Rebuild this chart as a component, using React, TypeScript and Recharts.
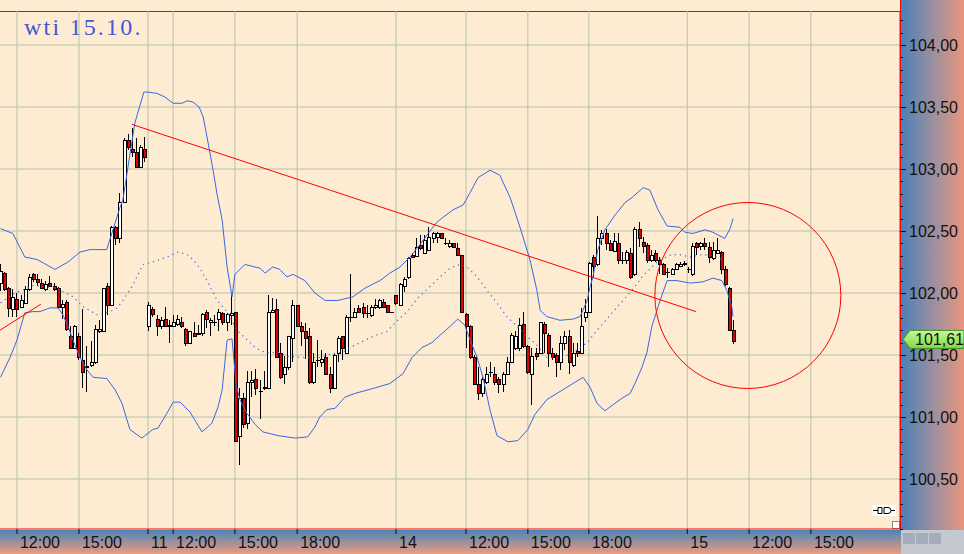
// WTI 12-min candles with Bollinger bands, 10.10 – 15.10

import { Bar, CartesianGrid, ComposedChart, Line, ReferenceDot, ReferenceLine, XAxis, YAxis } from "recharts";

// [open, high, low, close] per session
const day10: number[][] = [
  [102.08, 102.23, 102.02, 102.18], [102.16, 102.17, 102.02, 102.03], [102.04, 102.05, 101.81, 101.88],
  [101.87, 102.03, 101.81, 101.97], [101.95, 102.0, 101.81, 101.87], [101.89, 101.98, 101.88, 101.94],
  [101.92, 102.06, 101.92, 102.03], [102.03, 102.15, 102.02, 102.13], [102.15, 102.16, 102.09, 102.11],
  [102.11, 102.15, 102.06, 102.09], [102.08, 102.11, 102.03, 102.04], [102.03, 102.1, 102.02, 102.07],
  [102.08, 102.14, 102.05, 102.06], [102.06, 102.08, 102.02, 102.03], [102.04, 102.05, 101.88, 101.89],
  [101.89, 101.94, 101.79, 101.91], [101.93, 101.94, 101.69, 101.71], [101.65, 101.73, 101.55, 101.56],
  [101.56, 101.74, 101.55, 101.73], [101.65, 101.68, 101.46, 101.48], [101.46, 101.87, 101.23, 101.36],
  [101.4, 101.57, 101.2, 101.41], [101.42, 101.61, 101.4, 101.44], [101.44, 101.74, 101.43, 101.71],
  [101.69, 101.78, 101.68, 101.71], [101.69, 102.04, 101.69, 102.04], [102.06, 102.08, 101.82, 101.9],
  [101.9, 102.54, 101.9, 102.53], [102.53, 102.54, 102.39, 102.44], [102.44, 102.81, 102.4, 102.73],
  [102.73, 103.25, 102.73, 103.23], [103.23, 103.28, 103.15, 103.18], [103.16, 103.33, 103.1, 103.14],
  [103.14, 103.25, 103.02, 103.02], [103.02, 103.19, 103.02, 103.18], [103.16, 103.26, 103.06, 103.1],
];

const day11: number[][] = [
  [101.73, 101.93, 101.69, 101.9], [101.87, 101.89, 101.81, 101.83], [101.79, 101.82, 101.65, 101.73],
  [101.73, 101.81, 101.71, 101.78], [101.79, 101.89, 101.73, 101.73], [101.73, 101.78, 101.6, 101.74],
  [101.73, 101.82, 101.73, 101.77], [101.75, 101.82, 101.73, 101.79], [101.77, 101.81, 101.72, 101.73],
  [101.71, 101.72, 101.57, 101.6], [101.6, 101.69, 101.6, 101.69], [101.68, 101.77, 101.65, 101.65],
  [101.68, 101.74, 101.67, 101.67], [101.68, 101.84, 101.65, 101.83], [101.85, 101.86, 101.72, 101.79],
  [101.77, 101.8, 101.65, 101.78], [101.77, 101.82, 101.73, 101.77], [101.79, 101.87, 101.69, 101.85],
  [101.84, 101.85, 101.74, 101.77], [101.77, 101.84, 101.69, 101.83], [101.82, 101.98, 101.74, 101.84],
  [101.85, 101.85, 100.8, 100.81], [100.85, 101.23, 100.61, 101.15], [101.15, 101.19, 100.91, 100.94],
  [100.95, 101.37, 100.9, 101.28], [101.28, 101.37, 101.16, 101.3], [101.31, 101.39, 101.18, 101.23],
  [101.21, 101.3, 100.98, 101.21], [101.23, 101.37, 101.22, 101.24], [101.23, 101.98, 101.23, 101.85],
  [101.85, 101.96, 101.84, 101.86], [101.87, 101.95, 101.48, 101.48], [101.52, 101.6, 101.31, 101.32],
  [101.35, 101.49, 101.27, 101.4], [101.4, 101.65, 101.38, 101.65], [101.64, 101.94, 101.44, 101.9],
  [101.9, 101.9, 101.73, 101.73], [101.73, 101.77, 101.57, 101.69], [101.69, 101.76, 101.47, 101.64],
  [101.65, 101.72, 101.27, 101.28], [101.28, 101.52, 101.27, 101.44], [101.46, 101.62, 101.4, 101.46],
  [101.44, 101.54, 101.4, 101.47], [101.48, 101.52, 101.34, 101.35], [101.35, 101.4, 101.19, 101.23],
  [101.23, 101.52, 101.23, 101.5], [101.52, 101.65, 101.44, 101.64], [101.65, 101.65, 101.46, 101.56],
  [101.52, 101.82, 101.52, 101.81], [101.81, 102.15, 101.77, 101.81], [101.81, 101.88, 101.81, 101.85],
  [101.88, 101.9, 101.84, 101.85], [101.89, 101.92, 101.8, 101.84], [101.84, 101.9, 101.8, 101.84],
  [101.82, 101.9, 101.81, 101.89], [101.89, 101.95, 101.87, 101.9], [101.89, 101.95, 101.87, 101.94],
  [101.93, 101.95, 101.88, 101.89], [101.9, 101.9, 101.84, 101.85], [101.85, 101.85, 101.84, 101.85],
];

const day14: number[][] = [
  [101.98, 101.98, 101.9, 101.92], [101.9, 102.08, 101.9, 102.07], [102.06, 102.13, 102.01, 102.11],
  [102.13, 102.29, 102.11, 102.28], [102.31, 102.32, 102.28, 102.29], [102.3, 102.44, 102.29, 102.37],
  [102.39, 102.47, 102.35, 102.36], [102.32, 102.47, 102.32, 102.43], [102.35, 102.53, 102.35, 102.45],
  [102.44, 102.49, 102.4, 102.48], [102.45, 102.49, 102.4, 102.48], [102.48, 102.48, 102.44, 102.44],
  [102.4, 102.44, 102.39, 102.4], [102.38, 102.43, 102.36, 102.4], [102.4, 102.4, 102.36, 102.37],
  [102.36, 102.4, 102.3, 102.31], [102.31, 102.31, 101.84, 101.85], [101.83, 101.84, 101.56, 101.73],
  [101.73, 101.74, 101.47, 101.48], [101.48, 101.5, 101.26, 101.27], [101.27, 101.4, 101.14, 101.19],
  [101.19, 101.32, 101.16, 101.31], [101.28, 101.4, 101.27, 101.35], [101.36, 101.44, 101.32, 101.36],
  [101.35, 101.4, 101.26, 101.28], [101.31, 101.32, 101.19, 101.27], [101.27, 101.36, 101.2, 101.35],
  [101.35, 101.48, 101.35, 101.44], [101.44, 101.68, 101.44, 101.66], [101.56, 101.69, 101.54, 101.65],
  [101.56, 101.8, 101.53, 101.74], [101.75, 101.85, 101.56, 101.57], [101.57, 101.58, 101.35, 101.36],
  [101.35, 101.56, 101.1, 101.49], [101.52, 101.56, 101.46, 101.49], [101.52, 101.77, 101.52, 101.77],
  [101.75, 101.77, 101.52, 101.68], [101.66, 101.68, 101.4, 101.52], [101.52, 101.56, 101.46, 101.48],
  [101.5, 101.52, 101.32, 101.44], [101.44, 101.65, 101.38, 101.6], [101.6, 101.69, 101.54, 101.65],
  [101.65, 101.7, 101.35, 101.44], [101.42, 101.6, 101.4, 101.52], [101.53, 101.6, 101.48, 101.52],
  [101.52, 101.88, 101.52, 101.73], [101.81, 101.95, 101.77, 101.85], [101.85, 102.25, 101.84, 102.24],
  [102.29, 102.31, 102.13, 102.22], [102.23, 102.62, 102.22, 102.44], [102.44, 102.51, 102.39, 102.48],
  [102.48, 102.52, 102.35, 102.4], [102.4, 102.43, 102.34, 102.35], [102.34, 102.48, 102.33, 102.42],
  [102.4, 102.48, 102.23, 102.27], [102.27, 102.33, 102.23, 102.27], [102.27, 102.35, 102.23, 102.33],
  [102.32, 102.36, 102.11, 102.13], [102.15, 102.53, 102.14, 102.52], [102.52, 102.57, 102.37, 102.44],
  [102.41, 102.45, 102.32, 102.38], [102.39, 102.4, 102.24, 102.27], [102.27, 102.35, 102.25, 102.31],
  [102.32, 102.35, 102.25, 102.27], [102.27, 102.29, 102.15, 102.23], [102.23, 102.24, 102.15, 102.15],
  [102.17, 102.2, 102.12, 102.17], [102.15, 102.2, 102.15, 102.19], [102.19, 102.24, 102.19, 102.23],
  [102.22, 102.25, 102.21, 102.23], [102.23, 102.26, 102.22, 102.24],
];

const day15: number[][] = [
  [102.19, 102.21, 102.16, 102.19], [102.15, 102.4, 102.14, 102.38], [102.4, 102.41, 102.31, 102.37],
  [102.38, 102.41, 102.35, 102.4], [102.4, 102.44, 102.35, 102.38], [102.37, 102.41, 102.24, 102.29],
  [102.28, 102.41, 102.27, 102.35], [102.32, 102.44, 102.32, 102.35], [102.33, 102.34, 102.15, 102.19],
  [102.19, 102.22, 102.06, 102.07], [102.04, 102.05, 101.69, 101.7], [101.7, 101.78, 101.59, 101.61],
];

// Bollinger bands: [bar index, price]
const upperBand: number[][] = [
  [0, 102.52], [3, 102.48], [5.9, 102.29], [8.9, 102.27], [13.2, 102.19], [16.4, 102.25], [19.3, 102.33],
  [21.7, 102.35], [25.8, 102.35], [27.3, 102.51], [29, 102.69], [29.7, 102.75], [32.6, 103.37], [34.8, 103.62],
  [35.8, 103.62], [38, 103.61], [39.9, 103.58], [41.9, 103.53], [44.1, 103.53], [45.3, 103.55], [46.7, 103.54],
  [48.2, 103.5], [49.2, 103.42], [50.4, 103.21], [51.6, 102.99], [52.6, 102.79], [53.8, 102.59], [55, 102.21],
  [56.2, 101.97], [56.9, 102.15], [59.3, 102.23], [63, 102.2], [64.2, 102.16], [66.1, 102.21], [67.8, 102.19],
  [69.5, 102.13], [71, 102.15], [73.9, 102.1], [76.3, 102.0], [78.8, 101.94], [81.9, 101.94], [85.6, 101.97],
  [88.5, 102.04], [92.1, 102.1], [94.5, 102.16], [97, 102.21], [99.4, 102.29], [101.8, 102.39], [103.8, 102.48],
  [105.9, 102.57], [107.4, 102.61], [109.8, 102.67], [112.3, 102.71], [114, 102.81], [115.9, 102.93],
  [118.8, 102.99], [121.2, 102.95], [123.7, 102.77], [126.1, 102.53], [128.5, 102.27], [130.2, 102.02],
  [131, 101.86], [132.6, 101.81], [135.8, 101.78], [139, 101.79], [140.7, 101.81], [142.4, 101.94],
  [143.1, 102.05], [143.8, 102.13], [145, 102.35], [146.7, 102.51], [149.2, 102.63], [151.6, 102.73],
  [153.3, 102.77], [156, 102.85], [157.6, 102.83], [159.6, 102.67], [161.8, 102.54], [164.9, 102.53],
  [166.1, 102.49], [168.1, 102.48], [171, 102.51], [172.9, 102.49], [175.8, 102.44], [177.1, 102.52],
  [177.8, 102.6],
];

const middleBand: number[][] = [
  [0, 101.92], [3.5, 102.0], [5.9, 102.03], [7.9, 102.06], [10.8, 102.05], [13.7, 102.04], [15.2, 102.01],
  [17.6, 101.97], [20, 101.89], [23.7, 101.82], [26.6, 101.85], [28.3, 101.88], [29.7, 101.94], [31.9, 102.05],
  [34.6, 102.23], [37, 102.25], [40.4, 102.29], [43.1, 102.33], [45.3, 102.31], [46.7, 102.27], [48.4, 102.2],
  [50.1, 102.1], [52.6, 101.94], [55, 101.85], [57.4, 101.7], [59.3, 101.64], [61.8, 101.56], [64.2, 101.52],
  [67.4, 101.52], [69.8, 101.49], [73.2, 101.48], [75.6, 101.48], [77.5, 101.48], [80.5, 101.51], [82.9, 101.52],
  [84.8, 101.56], [87.3, 101.6], [90.4, 101.65], [93.8, 101.69], [95.8, 101.76], [98.7, 101.85], [101.3, 101.96],
  [104.2, 102.05], [106.7, 102.13], [109.1, 102.2], [111.5, 102.23], [113.2, 102.21], [115.7, 102.13],
  [118.1, 102.02], [120.5, 101.92], [122.9, 101.81], [125.4, 101.73], [127.8, 101.65], [130.2, 101.58],
  [132.6, 101.48], [136.5, 101.48], [139.9, 101.54], [142.4, 101.6], [144.8, 101.7], [146.7, 101.77],
  [148.7, 101.85], [151.1, 101.94], [154, 102.05], [155.7, 102.13], [158.1, 102.21], [160.1, 102.27],
  [163, 102.31], [164.9, 102.31], [167.4, 102.29], [170.3, 102.31], [172.9, 102.3], [175.1, 102.27],
];

const lowerBand: number[][] = [
  [0, 101.32], [2.3, 101.48], [4, 101.62], [5.2, 101.76], [5.9, 101.84], [7.9, 101.85], [9.6, 101.85],
  [12, 101.88], [14, 101.88], [15.2, 101.82], [16.4, 101.73], [17.6, 101.62], [19.3, 101.48], [21, 101.38],
  [22.5, 101.32], [25.8, 101.31], [27.8, 101.22], [29.5, 101.11], [31.4, 100.9], [34.3, 100.83], [37, 100.9],
  [38.2, 100.91], [40.4, 101.03], [41.9, 101.12], [43.6, 101.12], [46, 101.04], [48.9, 100.88], [51.3, 100.95],
  [52.8, 101.08], [53.8, 101.22], [55, 101.62], [56.2, 101.63], [57.2, 101.26], [58.1, 101.14], [59.8, 101.03],
  [61.8, 100.94], [63.7, 100.88], [67.4, 100.85], [71.5, 100.83], [74.6, 100.84], [76.3, 100.92], [77.5, 101.0],
  [79.2, 101.06], [81.2, 101.07], [83.6, 101.16], [86, 101.19], [90.4, 101.23], [94.5, 101.27], [97.7, 101.35],
  [99.9, 101.48], [102.3, 101.56], [104.7, 101.6], [106.7, 101.66], [109.1, 101.73], [111, 101.79],
  [112.7, 101.74], [114, 101.62], [115.7, 101.48], [117.1, 101.32], [118.8, 101.06], [120.5, 100.85],
  [123.2, 100.8], [125.6, 100.81], [128, 100.9], [129.7, 101.02], [132.6, 101.14], [136.5, 101.22],
  [141.4, 101.32], [143.1, 101.24], [144.8, 101.11], [146.7, 101.05], [148.7, 101.1], [150.8, 101.15],
  [152.8, 101.19], [154, 101.27], [155.7, 101.4], [156.9, 101.52], [158.1, 101.73], [160.1, 101.94],
  [161.8, 102.1], [164.2, 102.1], [167.4, 102.08], [170.5, 102.09], [172.9, 102.12], [175.1, 102.1],
  [176.3, 102.02], [177.5, 101.89], [177.8, 101.81],
];

// time axis
const timeTicks = [4, 19.05, 35.8, 41.9, 56.9, 72, 96, 113, 128, 142.8, 166.7, 181.7, 196.7];
const timeLabels = ["12:00", "15:00", "11", "12:00", "15:00", "18:00", "14", "12:00", "15:00", "18:00", "15", "12:00", "15:00"];

// price axis
const priceLabels = [100.5, 101, 101.5, 102, 102.5, 103, 103.5, 104];
const priceMinor = [
  100.1, 100.2, 100.3, 100.4, 100.6, 100.7, 100.8, 100.9, 101.1, 101.2, 101.3, 101.4, 101.6, 101.7, 101.8,
  101.9, 102.1, 102.2, 102.3, 102.4, 102.6, 102.7, 102.8, 102.9, 103.1, 103.2, 103.3, 103.4, 103.6, 103.7,
  103.8, 103.9, 104.1, 104.2,
];
const lastPrice = 101.61;

// drawings
const trendLine = [{ x: 31.9, y: 103.36 }, { x: 168.8, y: 101.85 }];
const oldTrendLine = [{ x: -0.12, y: 101.7 }, { x: 9.8, y: 101.91 }];
const circle = { x: 181.4, y: 101.98, r: 93 };

const candles = [...day10, ...day11, ...day14, ...day15].map((q, i) => ({ i, o: q[0], h: q[1], l: q[2], c: q[3] }));
const toPts = (arr: number[][]) => arr.map(([i, p]) => ({ i, p }));

const BLUE = "#3a66e2";
const RED = "#ff0000";

function Candle(props: any) {
  const { x, y, width, height, payload } = props;
  const { o, h, l, c } = payload;
  const cx = Math.floor(x + width / 2) + 0.5;
  const k = height / (h - l);
  const top = Math.round(y + (h - Math.max(o, c)) * k);
  const bot = Math.round(y + (h - Math.min(o, c)) * k);
  const flat = Math.abs(o - c) < 0.005;
  return (
    <g shapeRendering="crispEdges">
      <line x1={cx} x2={cx} y1={y} y2={y + height} stroke="#000" />
      {flat ? (
        <line x1={cx - 2} x2={cx + 2} y1={top + 0.5} y2={top + 0.5} stroke="#000" />
      ) : (
        <rect x={cx - 1} y={top + 0.5} width={3} height={Math.max(bot - top, 1)} fill={c > o ? "#ffffff" : "#e00000"} stroke="#000" />
      )}
    </g>
  );
}

function TimeTick(props: any) {
  const { x, y, index } = props;
  return (
    <text x={x + 3} y={y + 14} fontSize={16} fontFamily="Liberation Sans" fill="#111">
      {timeLabels[index]}
    </text>
  );
}

function PriceTick(props: any) {
  const { x, y, payload } = props;
  const v = payload.value;
  if (v === lastPrice) {
    return (
      <g>
        <polygon
          points={`${x + 3},${y - 2} ${x + 10},${y - 11} ${x + 64},${y - 11} ${x + 64},${y + 7} ${x + 10},${y + 7}`}
          fill="url(#tagFill)"
          stroke="#3f8f22"
        />
        <text x={x + 15} y={y + 4} fontSize={16} fontFamily="Liberation Sans" fill="#111">
          {v.toFixed(2).replace(".", ",")}
        </text>
      </g>
    );
  }
  const major = priceLabels.includes(v);
  return (
    <g>
      <line x1={x} x2={x + (major ? 6 : 3)} y1={Math.round(y) + 0.5} y2={Math.round(y) + 0.5} stroke="#111" />
      {major && (
        <text x={x + 9} y={y + 6} fontSize={16} fontFamily="Liberation Sans" fill="#111">
          {v.toFixed(2).replace(".", ",")}
        </text>
      )}
    </g>
  );
}

export default function App() {
  return (
    <div style={{ position: "absolute", left: 0, top: 0, width: 964, height: 554, background: "#feecd2", overflow: "hidden" }}>
      <div style={{ position: "absolute", left: 901, top: 0, width: 63, height: 530, background: "linear-gradient(to right, #4a80b8, #9a8fa0 50%, #e8967c)" }} />
      <div style={{ position: "absolute", left: 0, top: 530, width: 901, height: 24, background: "linear-gradient(to bottom, #4c84b6, #ec9c80)" }} />
      <div style={{ position: "absolute", left: 901, top: 530, width: 63, height: 24, background: "#c4c9d1" }}>
        {[2, 15, 28].map((l) => (
          <div key={l} style={{ position: "absolute", left: l, top: 3, width: 12, height: 11, background: "#a3adbb" }} />
        ))}
      </div>
      <div style={{ position: "absolute", left: 0, top: 11, width: 900, height: 1, background: RED }} />
      <div style={{ position: "absolute", left: 900, top: 0, width: 1, height: 530, background: RED }} />
      <svg style={{ position: "absolute", left: 872, top: 505 }} width={28} height={25}>
        <rect x={0} y={0} width={24} height={11} fill="#fff" />
        <path d="M1 5.5h5M6 2.5h4v6h-4zM12 2.5h4a3 3 0 0 1 0 6h-4zM19 5.5h4" fill="none" stroke="#000" />
        <rect x={20.5} y={16.5} width={7} height={7} fill="#fff" stroke="#888" />
      </svg>
      <div
        style={{
          position: "absolute",
          left: 24,
          top: 16,
          fontFamily: "Liberation Serif",
          fontSize: 24,
          lineHeight: "23px",
          letterSpacing: 2.2,
          color: "#4757d2",
        }}
      >
        wti 15.10.
      </div>
      <div style={{ position: "absolute", left: 0, top: 0 }}>
        <ComposedChart width={964} height={554} data={candles} margin={{ top: 11, right: 0, bottom: 0, left: 0 }}>
          <defs>
            <linearGradient id="tagFill" x1="0" y1="0" x2="0" y2="1">
              <stop offset="0%" stopColor="#c6f79a" />
              <stop offset="100%" stopColor="#7fdc45" />
            </linearGradient>
          </defs>
          <CartesianGrid stroke="#b3c3a9" horizontalValues={priceLabels} verticalValues={timeTicks} />
          <XAxis
            dataKey="i"
            type="number"
            domain={[-0.12, 218.33]}
            allowDataOverflow
            ticks={timeTicks}
            interval={0}
            height={25}
            tickSize={5}
            tickMargin={0}
            axisLine={{ stroke: RED }}
            tickLine={{ stroke: "#111" }}
            tick={<TimeTick />}
          />
          <YAxis
            orientation="right"
            type="number"
            width={64}
            domain={[100.097, 104.274]}
            allowDataOverflow
            ticks={[...priceMinor, ...priceLabels, lastPrice]}
            interval={0}
            tickSize={0}
            tickMargin={0}
            tickLine={false}
            axisLine={{ stroke: RED }}
            tick={<PriceTick />}
          />
          <Bar dataKey={(d: any) => [d.l, d.h]} barSize={3} shape={<Candle />} isAnimationActive={false} />
          <Line data={toPts(upperBand)} dataKey="p" type="linear" stroke={BLUE} strokeWidth={1} dot={false} isAnimationActive={false} />
          <Line data={toPts(middleBand)} dataKey="p" type="linear" stroke={BLUE} strokeWidth={1.2} strokeDasharray="1.2 4" dot={false} isAnimationActive={false} />
          <Line data={toPts(lowerBand)} dataKey="p" type="linear" stroke={BLUE} strokeWidth={1} dot={false} isAnimationActive={false} />
          <ReferenceLine segment={trendLine} stroke={RED} strokeWidth={1} ifOverflow="visible" />
          <ReferenceLine segment={oldTrendLine} stroke={RED} strokeWidth={1} ifOverflow="visible" />
          <ReferenceDot x={circle.x} y={circle.y} r={circle.r} fill="none" stroke={RED} strokeWidth={1} ifOverflow="visible" />
        </ComposedChart>
      </div>
    </div>
  );
}
